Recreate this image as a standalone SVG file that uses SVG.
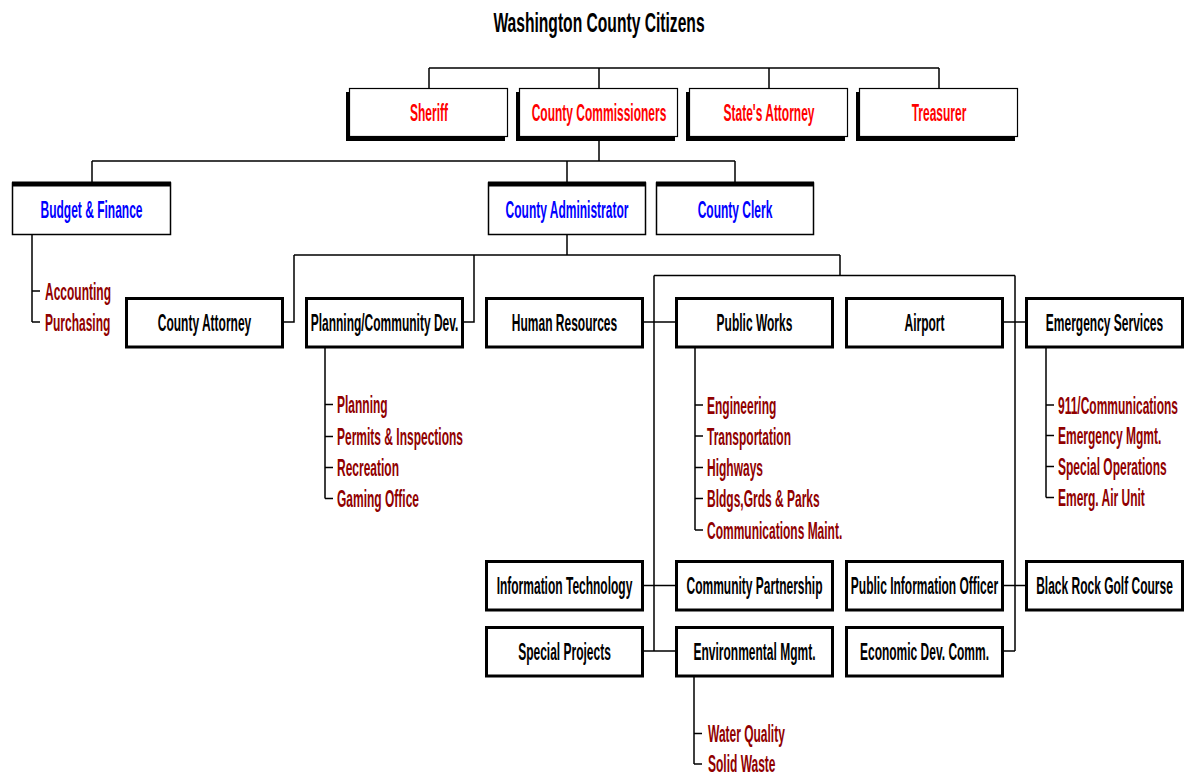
<svg xmlns="http://www.w3.org/2000/svg" width="1185" height="776" viewBox="0 0 1185 776">
<style>
  .t{font-family:"Liberation Sans",Arial,sans-serif;font-weight:bold;font-size:23px;text-anchor:middle;fill:#000}
  .title{font-size:27px}
  .red{fill:#FF0000}
  .blue{fill:#0000FF}
  .sub{fill:#900000;text-anchor:start}
  .b1{fill:#fff;stroke:#000;stroke-width:1.2}
  .sh{fill:#000}
  .b2{fill:#fff;stroke:#000;stroke-width:1.5}
  .b3{fill:#fff;stroke:#000;stroke-width:3}
  .c{fill:none;stroke:#000;stroke-width:1.5}
</style>
<rect width="1185" height="776" fill="#fff"/>

<g id="connectors">
  <path class="c" d="M429,68 H939 M429,68 V88 M599,68 V88 M769,68 V88 M939,68 V88"/>
  <path class="c" d="M599,137 V161 M92,161 H735 M92,161 V183 M567,161 V183 M735,161 V183"/>
  <path class="c" d="M567,235 V255 M294,255 H840 M294,255 V322 H284 M474,255 V322 H464 M840,255 V275.5 M654,275.5 H1015 M654,275.5 V651 M1015,275.5 V651"/>
  <path class="c" d="M644,322 H675 M644,585.5 H675 M644,651 H675 M1004,322 H1025 M1004,585.5 H1025 M1004,651 H1015"/>
  <path class="c" d="M32,235 V322 M32,291 H40 M32,322 H40"/>
  <path class="c" d="M325,348 V498.5 M325,404.5 H333 M325,436.5 H333 M325,467.5 H333 M325,498.5 H333"/>
  <path class="c" d="M695,348 V530 M695,405 H703 M695,436 H703 M695,467.5 H703 M695,498.5 H703 M695,530 H703"/>
  <path class="c" d="M1046,348 V497.5 M1046,405 H1054 M1046,435.5 H1054 M1046,466.5 H1054 M1046,497.5 H1054"/>
  <path class="c" d="M694,677 V764 M694,733.5 H702 M694,764 H702"/>
</g>

<g id="n-title"><text class="t title" transform="translate(599,32) scale(0.579,1)">Washington County Citizens</text></g>

<g id="n-sheriff"><rect class="sh" x="346" y="92" width="159" height="49"/><rect class="b1" x="349.5" y="88.5" width="158" height="48"/><text class="t red" transform="translate(429,121) scale(0.522,1)">Sheriff</text></g>
<g id="n-commissioners"><rect class="sh" x="516" y="92" width="159" height="49"/><rect class="b1" x="519.5" y="88.5" width="158" height="48"/><text class="t red" transform="translate(599,121) scale(0.522,1)">County Commissioners</text></g>
<g id="n-statesattorney"><rect class="sh" x="686" y="92" width="159" height="49"/><rect class="b1" x="689.5" y="88.5" width="158" height="48"/><text class="t red" transform="translate(769,121) scale(0.522,1)">State's Attorney</text></g>
<g id="n-treasurer"><rect class="sh" x="856" y="92" width="159" height="49"/><rect class="b1" x="859.5" y="88.5" width="158" height="48"/><text class="t red" transform="translate(939,121) scale(0.522,1)">Treasurer</text></g>

<g id="n-budget"><rect class="b2" x="12.5" y="183" width="158" height="51.5"/><rect class="sh" x="12" y="181.5" width="159" height="5"/><text class="t blue" transform="translate(91.5,218) scale(0.522,1)">Budget &amp; Finance</text></g>
<g id="n-administrator"><rect class="b2" x="488.5" y="183" width="157" height="51.5"/><rect class="sh" x="488" y="181.5" width="158" height="5"/><text class="t blue" transform="translate(567,218) scale(0.522,1)">County Administrator</text></g>
<g id="n-clerk"><rect class="b2" x="656.5" y="183" width="157" height="51.5"/><rect class="sh" x="656" y="181.5" width="158" height="5"/><text class="t blue" transform="translate(735,218) scale(0.522,1)">County Clerk</text></g>

<g id="n-budget-sub"><text class="t sub" transform="translate(45,299.5) scale(0.522,1)">Accounting</text><text class="t sub" transform="translate(45,330.5) scale(0.522,1)">Purchasing</text></g>

<g id="n-attorney"><rect class="b3" x="126.5" y="298.5" width="156" height="48.5"/><text class="t" transform="translate(204.5,331) scale(0.522,1)">County Attorney</text></g>
<g id="n-planning"><rect class="b3" x="306.5" y="298.5" width="156" height="48.5"/><text class="t" transform="translate(384.5,331) scale(0.522,1)">Planning/Community Dev.</text></g>
<g id="n-hr"><rect class="b3" x="486.5" y="298.5" width="156" height="48.5"/><text class="t" transform="translate(564.5,331) scale(0.522,1)">Human Resources</text></g>
<g id="n-publicworks"><rect class="b3" x="676.5" y="298.5" width="156" height="48.5"/><text class="t" transform="translate(754.5,331) scale(0.522,1)">Public Works</text></g>
<g id="n-airport"><rect class="b3" x="846.5" y="298.5" width="156" height="48.5"/><text class="t" transform="translate(924.5,331) scale(0.522,1)">Airport</text></g>
<g id="n-emergency"><rect class="b3" x="1026.5" y="298.5" width="156" height="48.5"/><text class="t" transform="translate(1104.5,331) scale(0.522,1)">Emergency Services</text></g>

<g id="n-planning-sub">
  <text class="t sub" transform="translate(337,413) scale(0.522,1)">Planning</text>
  <text class="t sub" transform="translate(337,445) scale(0.522,1)">Permits &amp; Inspections</text>
  <text class="t sub" transform="translate(337,476) scale(0.522,1)">Recreation</text>
  <text class="t sub" transform="translate(337,507) scale(0.522,1)">Gaming Office</text>
</g>
<g id="n-publicworks-sub">
  <text class="t sub" transform="translate(707,413.5) scale(0.522,1)">Engineering</text>
  <text class="t sub" transform="translate(707,444.5) scale(0.522,1)">Transportation</text>
  <text class="t sub" transform="translate(707,476) scale(0.522,1)">Highways</text>
  <text class="t sub" transform="translate(707,507) scale(0.522,1)">Bldgs,Grds &amp; Parks</text>
  <text class="t sub" transform="translate(707,538.5) scale(0.522,1)">Communications Maint.</text>
</g>
<g id="n-emergency-sub">
  <text class="t sub" transform="translate(1058,413.5) scale(0.522,1)">911/Communications</text>
  <text class="t sub" transform="translate(1058,444) scale(0.522,1)">Emergency Mgmt.</text>
  <text class="t sub" transform="translate(1058,475) scale(0.522,1)">Special Operations</text>
  <text class="t sub" transform="translate(1058,506) scale(0.522,1)">Emerg. Air Unit</text>
</g>

<g id="n-it"><rect class="b3" x="486.5" y="561.5" width="156" height="48.5"/><text class="t" transform="translate(564.5,594) scale(0.522,1)">Information Technology</text></g>
<g id="n-community"><rect class="b3" x="676.5" y="561.5" width="156" height="48.5"/><text class="t" transform="translate(754.5,594) scale(0.522,1)">Community Partnership</text></g>
<g id="n-pio"><rect class="b3" x="846.5" y="561.5" width="156" height="48.5"/><text class="t" transform="translate(924.5,594) scale(0.522,1)">Public Information Officer</text></g>
<g id="n-golf"><rect class="b3" x="1026.5" y="561.5" width="156" height="48.5"/><text class="t" transform="translate(1104.5,594) scale(0.522,1)">Black Rock Golf Course</text></g>

<g id="n-special"><rect class="b3" x="486.5" y="627.5" width="156" height="48.5"/><text class="t" transform="translate(564.5,660) scale(0.522,1)">Special Projects</text></g>
<g id="n-environmental"><rect class="b3" x="676.5" y="627.5" width="156" height="48.5"/><text class="t" transform="translate(754.5,660) scale(0.522,1)">Environmental Mgmt.</text></g>
<g id="n-econdev"><rect class="b3" x="846.5" y="627.5" width="156" height="48.5"/><text class="t" transform="translate(924.5,660) scale(0.522,1)">Economic Dev. Comm.</text></g>

<g id="n-environmental-sub">
  <text class="t sub" transform="translate(708,742) scale(0.522,1)">Water Quality</text>
  <text class="t sub" transform="translate(708,772) scale(0.522,1)">Solid Waste</text>
</g>
</svg>
